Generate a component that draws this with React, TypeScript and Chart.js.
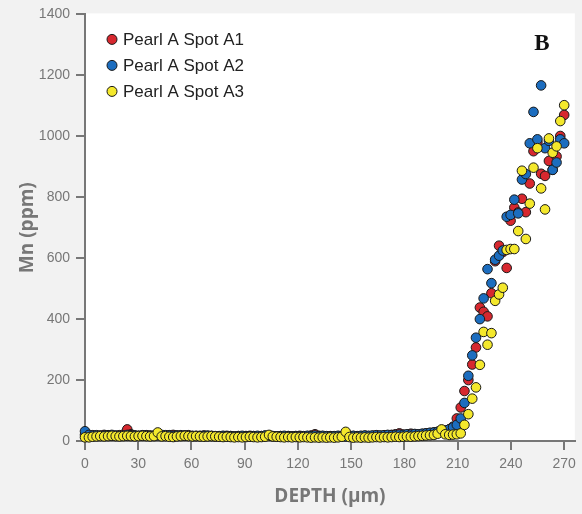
import React, { useEffect, useRef } from "react";
import { Chart, registerables } from "chart.js";

Chart.register(...registerables);

// Depth of each laser spot measurement (µm)
const depthUm = [
  0, 2.2, 4.3, 6.5, 8.6, 10.8, 13.0, 15.1, 17.3, 19.4,
  21.6, 23.8, 25.9, 28.1, 30.2, 32.4, 34.6, 36.7, 38.9, 41.0,
  43.2, 45.4, 47.5, 49.7, 51.8, 54.0, 56.2, 58.3, 60.5, 62.6,
  64.8, 67.0, 69.1, 71.3, 73.4, 75.6, 77.8, 79.9, 82.1, 84.2,
  86.4, 88.6, 90.7, 92.9, 95.0, 97.2, 99.4, 101.5, 103.7, 105.8,
  108.0, 110.2, 112.3, 114.5, 116.6, 118.8, 121.0, 123.1, 125.3, 127.4,
  129.6, 131.8, 133.9, 136.1, 138.2, 140.4, 142.6, 144.7, 146.9, 149.0,
  151.2, 153.4, 155.5, 157.7, 159.8, 162.0, 164.2, 166.3, 168.5, 170.6,
  172.8, 175.0, 177.1, 179.3, 181.4, 183.6, 185.8, 187.9, 190.1, 192.2,
  194.4, 196.6, 198.7, 200.9, 203.0, 205.2, 207.4, 209.5, 211.7, 213.8,
  216.0, 218.2, 220.3, 222.5, 224.6, 226.8, 229.0, 231.1, 233.3, 235.4,
  237.6, 239.8, 241.9, 244.1, 246.2, 248.4, 250.6, 252.7, 254.9, 257.0,
  259.2, 261.4, 263.5, 265.7, 267.8, 270.0,
];

// Mn (ppm) – Pearl A Spot A1
const spotA1 = [
  20, 18, 19, 17, 18, 20, 19, 18, 17, 19,
  21, 38, 22, 18, 17, 18, 19, 18, 17, 19,
  18, 17, 19, 20, 18, 17, 18, 19, 17, 16,
  17, 18, 16, 17, 16, 15, 16, 17, 16, 15,
  16, 15, 16, 17, 16, 15, 16, 17, 18, 16,
  15, 16, 15, 16, 15, 16, 17, 15, 16, 18,
  22, 17, 16, 15, 16, 15, 16, 15, 16, 15,
  16, 15, 16, 17, 16, 17, 18, 17, 18, 19,
  20, 22, 25, 21, 20, 24, 22, 21, 23, 25,
  26, 28, 30, 32, 35, 38, 47, 74, 110, 164,
  200, 251, 307, 438, 424, 409, 485, 590, 641, 620,
  568, 723, 766, 750, 795, 751, 845, 951, 980, 877,
  870, 919, 890, 934, 1001, 1070,
];

// Mn (ppm) – Pearl A Spot A2
const spotA2 = [
  32, 20, 18, 19, 17, 18, 19, 20, 18, 17,
  18, 20, 19, 18, 17, 19, 18, 17, 18, 19,
  20, 19, 18, 17, 18, 19, 18, 17, 16, 17,
  16, 17, 18, 16, 15, 16, 17, 15, 16, 15,
  16, 17, 16, 15, 16, 17, 16, 18, 17, 16,
  15, 16, 17, 16, 15, 16, 15, 16, 17, 16,
  18, 16, 17, 16, 15, 16, 17, 16, 15, 16,
  17, 16, 17, 18, 17, 18, 19, 18, 19, 20,
  19, 20, 21, 20, 22, 21, 23, 22, 24, 25,
  27, 28, 30, 31, 30, 38, 45, 53, 74, 125,
  214, 281, 339, 400, 468, 564, 518, 595, 608, 625,
  736, 742, 792, 747, 858, 876, 977, 1080, 990, 1167,
  961, 985, 890, 914, 990, 977,
];

// Mn (ppm) – Pearl A Spot A3
const spotA3 = [
  12, 12, 14, 15, 16, 15, 16, 17, 16, 15,
  16, 17, 16, 15, 16, 17, 16, 15, 16, 28,
  15, 16, 14, 13, 15, 16, 17, 16, 15, 16,
  15, 14, 15, 16, 15, 14, 13, 14, 13, 12,
  13, 12, 13, 14, 13, 12, 13, 14, 20, 15,
  14, 13, 12, 13, 12, 13, 12, 13, 12, 11,
  12, 11, 12, 11, 12, 11, 12, 14, 30, 13,
  11, 12, 11, 12, 11, 12, 13, 12, 13, 12,
  13, 14, 13, 14, 15, 14, 15, 16, 17, 18,
  19, 20, 24, 38, 22, 20, 21, 22, 25, 53,
  88, 139, 176, 250, 358, 316, 354, 460, 481, 503,
  627, 630, 630, 689, 887, 663, 779, 897, 961, 829,
  760, 993, 946, 967, 1050, 1102,
];

const seriesNames = ["Pearl A Spot A1", "Pearl A Spot A2", "Pearl A Spot A3"];
const seriesValues = [spotA1, spotA2, spotA3];
const seriesColors = ["#d7282f", "#1c6dbf", "#f4e82c"];
const seriesOrder = [2, 1, 0];

const xTicks = [0, 30, 60, 90, 120, 150, 180, 210, 240, 270];
const xMax = 276;
const yMax = 1400;
const yStep = 200;

const panelLabel = "B";
const xTitle = "DEPTH (µm)";
const yTitle = "Mn (ppm)";

const tickFont = { family: "'Liberation Sans', Arial, sans-serif", size: 14 };
const titleFont = { family: "'Open Sans', sans-serif", size: 19, weight: "bold" as const };

const decorPlugin = {
  id: "decor",
  beforeDraw(chart: any) {
    const { ctx, chartArea: a } = chart;
    ctx.save();
    ctx.fillStyle = "#f2f2f2";
    ctx.fillRect(0, 0, chart.width, chart.height);
    ctx.fillStyle = "#ffffff";
    ctx.fillRect(a.left, a.top - 1, a.right - a.left, a.bottom - a.top + 1);
    ctx.restore();
  },
  afterDatasetsDraw(chart: any) {
    const { ctx, chartArea: a } = chart;
    ctx.save();
    // legend
    ctx.font = "17px 'Liberation Sans', Arial, sans-serif";
    ctx.textBaseline = "middle";
    ctx.textAlign = "left";
    seriesNames.forEach((name, i) => {
      const cy = a.top + 25 + i * 26;
      const cx = a.left + 27;
      ctx.beginPath();
      ctx.arc(cx, cy, 5, 0, Math.PI * 2);
      ctx.fillStyle = seriesColors[i];
      ctx.fill();
      ctx.lineWidth = 1;
      ctx.strokeStyle = "#1a1a1a";
      ctx.stroke();
      ctx.fillStyle = "#222222";
      ctx.fillText(name, a.left + 38, cy + 1);
    });
    // panel label
    ctx.font = "bold 23px 'Liberation Serif', 'DejaVu Serif', serif";
    ctx.textAlign = "center";
    ctx.fillStyle = "#111111";
    ctx.fillText(panelLabel, a.right - 33, a.top + 30);
    ctx.restore();
  },
};

export default function App() {
  const ref = useRef<HTMLCanvasElement>(null);

  useEffect(() => {
    const canvas = ref.current;
    if (!canvas) return;
    const chart = new Chart(canvas, {
      type: "scatter",
      data: {
        datasets: seriesValues.map((vals, s) => ({
          label: seriesNames[s],
          data: depthUm.map((d, i) => ({ x: d, y: vals[i] })),
          backgroundColor: seriesColors[s],
          borderColor: "#1a1a1a",
          borderWidth: 1,
          pointRadius: 4.8,
          pointHoverRadius: 4.8,
          order: seriesOrder[s],
          clip: false,
        })),
      },
      options: {
        responsive: false,
        animation: false,
        devicePixelRatio: 1,
        events: [],
        layout: { padding: { top: 13, right: 6, left: 0, bottom: 0 } },
        plugins: {
          legend: { display: false },
          tooltip: { enabled: false },
        },
        scales: {
          x: {
            type: "linear",
            min: 0,
            max: xMax,
            afterBuildTicks: (scale: any) => {
              scale.ticks = xTicks.map((v) => ({ value: v }));
            },
            afterFit: (scale: any) => {
              scale.height = 73;
            },
            ticks: {
              color: "#777777",
              font: tickFont,
              padding: 6,
              maxRotation: 0,
              autoSkip: false,
              callback: (v: any) => String(v),
            },
            grid: {
              drawOnChartArea: false,
              drawTicks: true,
              tickLength: 9,
              color: "#777777",
              lineWidth: 2,
            },
            border: { display: true, color: "#777777", width: 2 },
            title: {
              display: true,
              text: xTitle,
              color: "#777777",
              font: titleFont,
              padding: { top: 0, bottom: 6 },
            },
          },
          y: {
            type: "linear",
            min: 0,
            max: yMax,
            afterFit: (scale: any) => {
              scale.width = 85;
            },
            ticks: {
              stepSize: yStep,
              color: "#777777",
              font: tickFont,
              padding: 6,
              callback: (v: any) => String(v),
            },
            grid: {
              drawOnChartArea: false,
              drawTicks: true,
              tickLength: 9,
              color: "#777777",
              lineWidth: 2,
            },
            border: { display: true, color: "#777777", width: 2 },
            title: {
              display: true,
              text: yTitle,
              color: "#777777",
              font: titleFont,
              padding: { top: 16, bottom: 0 },
            },
          },
        },
      },
      plugins: [decorPlugin],
    } as any);
    return () => chart.destroy();
  }, []);

  return (
    <div
      style={{
        position: "fixed",
        left: 0,
        top: 0,
        width: 582,
        height: 514,
        background: "#f2f2f2",
      }}
    >
      <canvas ref={ref} width={582} height={514} style={{ display: "block" }} />
    </div>
  );
}
